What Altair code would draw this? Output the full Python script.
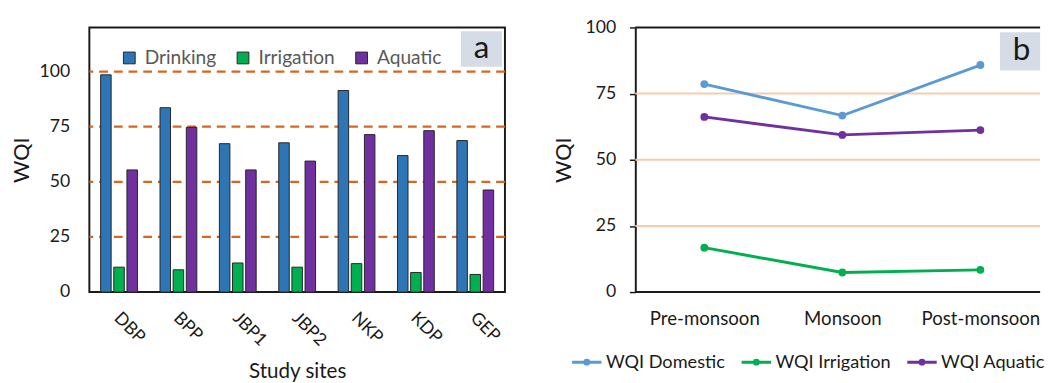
import altair as alt
import pandas as pd

FONT = "Lato"

# ---------------- panel a data ----------------
sites = ["DBP", "BPP", "JBP1", "JBP2", "NKP", "KDP", "GEP"]
drinking = [98.5, 83.6, 67.3, 67.7, 91.4, 61.9, 68.7]
irrigation = [11.3, 10.1, 13.2, 11.3, 12.9, 8.9, 8.0]
aquatic = [55.4, 74.7, 55.4, 59.4, 71.4, 73.2, 46.3]
uses = ["Drinking", "Irrigation", "Aquatic"]
use_colors = ["#2E75B6", "#00B050", "#7030A0"]
a_ticks = [0, 25, 50, 75, 100]
a_ref = [25, 50, 75, 100]

# ---------------- panel b data ----------------
seasons = ["Pre-monsoon", "Monsoon", "Post-monsoon"]
wqi_domestic = [78.6, 66.7, 85.8]
wqi_irrigation = [16.8, 7.4, 8.4]
wqi_aquatic = [66.2, 59.4, 61.2]
series = ["WQI Domestic", "WQI Irrigation", "WQI Aquatic"]
series_colors = ["#5B9BD5", "#00B050", "#7030A0"]
b_ticks = [0, 25, 50, 75, 100]
b_ref = [25, 50, 75]
b_frame = [0, 100]

# ---------------- tables ----------------
rows_a = []
for i, s in enumerate(sites):
    for u, vals in zip(uses, [drinking, irrigation, aquatic]):
        rows_a.append({"site": s, "use": u, "wqi": vals[i]})
dfa = pd.DataFrame(rows_a)

rows_b = []
for i, s in enumerate(seasons):
    for name, vals in zip(series, [wqi_domestic, wqi_irrigation, wqi_aquatic]):
        rows_b.append({"season": s, "idx": i, "series": name, "wqi": vals[i]})
dfb = pd.DataFrame(rows_b)

# ---------------- panel a ----------------
ya_scale = alt.Scale(domain=[0, 120], nice=False)
ya_axis = alt.Axis(
    values=a_ticks, title="WQI", grid=False, ticks=False, tickSize=0, domain=False,
    labelFontSize=18, labelColor="#1a1a1a", labelPadding=20,
    minExtent=47, maxExtent=47,
    titleFontSize=22, titleFontWeight="normal", titlePadding=10, titleColor="#1a1a1a",
)

rules_a = alt.Chart(pd.DataFrame({"v": a_ref})).mark_rule(
    color="#D9661F", strokeWidth=2.2, strokeDash=[9, 6]
).encode(y=alt.Y("v:Q", scale=ya_scale, axis=ya_axis))

bars = alt.Chart(dfa).mark_bar(stroke="#262626", strokeWidth=1).encode(
    x=alt.X(
        "site:N", sort=sites,
        scale=alt.Scale(paddingInner=0.38, paddingOuter=0.19),
        axis=alt.Axis(
            title="Study sites", labelAngle=45, labelFontSize=18, labelColor="#1a1a1a",
            labelPadding=17, labelOffset=4, ticks=False, domain=False, titleFontSize=21,
            titleFontWeight="normal", titlePadding=12, titleColor="#1a1a1a",
        ),
    ),
    xOffset=alt.XOffset("use:N", sort=uses, scale=alt.Scale(paddingInner=0.2, paddingOuter=0)),
    y=alt.Y("wqi:Q", scale=ya_scale, axis=ya_axis),
    color=alt.Color(
        "use:N", sort=uses, scale=alt.Scale(domain=uses, range=use_colors),
        legend=alt.Legend(
            orient="none", legendX=31, legendY=21, direction="horizontal", title=None,
            symbolType="square", symbolSize=144, symbolStrokeColor="#262626",
            symbolStrokeWidth=1, labelFontSize=19.5, labelColor="#595959", labelFont=FONT,
            columnPadding=17, labelOffset=6,
        ),
    ),
)

label_a = pd.DataFrame({"label": ["a"]})
box_a = alt.Chart(label_a).mark_rect(color="#D6DCE5").encode(
    x=alt.value(379), x2=alt.value(421), y=alt.value(4), y2=alt.value(40)
)
text_a = alt.Chart(label_a).mark_text(fontSize=32, font=FONT, color="#1a1a1a").encode(
    x=alt.value(400), y=alt.value(21), text="label:N"
)

panel_a = alt.layer(rules_a, bars, box_a, text_a).properties(
    width=424, height=270,
    view=alt.ViewBackground(stroke="#1a1a1a", strokeWidth=2),
)

# ---------------- panel b ----------------
yb_scale = alt.Scale(domain=[0, 100], nice=False)
yb_axis = alt.Axis(
    values=b_ticks, title="WQI", grid=False, ticks=True, tickSize=6,
    tickColor="#1a1a1a", tickWidth=1.5, domain=True, domainColor="#1a1a1a",
    domainWidth=2, labelFontSize=18, labelColor="#1a1a1a", labelPadding=14,
    minExtent=51, maxExtent=51,
    titleFontSize=22, titleFontWeight="normal", titlePadding=10, titleColor="#1a1a1a",
)
season_expr = "[" + ",".join("'" + s + "'" for s in seasons) + "][datum.value]"
xb = alt.X(
    "idx:Q",
    scale=alt.Scale(domain=[-0.5, 2.433], nice=False, zero=False),
    axis=alt.Axis(
        title=None, values=list(range(len(seasons))), labelExpr=season_expr,
        labelAngle=0, domain=False, ticks=False, grid=False, labelFontSize=19,
        labelColor="#1a1a1a", labelPadding=18, labelFlush=False, labelOverlap=False,
    ),
)

grid_b = alt.Chart(pd.DataFrame({"v": b_ref})).mark_rule(
    color="#F8CBAD", strokeWidth=2
).encode(y=alt.Y("v:Q", scale=yb_scale, axis=yb_axis))

frame_b = alt.Chart(pd.DataFrame({"v": b_frame})).mark_rule(
    color="#1a1a1a", strokeWidth=2
).encode(y=alt.Y("v:Q", scale=yb_scale, axis=yb_axis))

dot_path = (
    "M-1,0L1,0"
    "M0.133,0A0.133,0.133,0,1,1,-0.133,0A0.133,0.133,0,1,1,0.133,0"
    "M0.05,0A0.05,0.05,0,1,1,-0.05,0A0.05,0.05,0,1,1,0.05,0"
)

lines = alt.Chart(dfb).mark_line(strokeWidth=3).encode(
    x=xb,
    y=alt.Y("wqi:Q", scale=yb_scale, axis=yb_axis),
    color=alt.Color(
        "series:N", sort=series, scale=alt.Scale(domain=series, range=series_colors),
        legend=alt.Legend(
            orient="none", legendX=-66, legendY=325, direction="horizontal", title=None,
            symbolType=dot_path, symbolSize=900, symbolStrokeWidth=3,
            labelFontSize=18.5, labelColor="#1a1a1a", labelFont=FONT,
            columnPadding=10, labelOffset=3,
        ),
    ),
)

points = alt.Chart(dfb).mark_circle(size=64, opacity=1).encode(
    x=xb,
    y=alt.Y("wqi:Q", scale=yb_scale, axis=yb_axis),
    color=alt.Color("series:N", sort=series, scale=alt.Scale(domain=series, range=series_colors), legend=None),
)

label_b = pd.DataFrame({"label": ["b"]})
box_b = alt.Chart(label_b).mark_rect(color="#D6DCE5").encode(
    x=alt.value(372), x2=alt.value(413), y=alt.value(5), y2=alt.value(44)
)
text_b = alt.Chart(label_b).mark_text(fontSize=32, font=FONT, color="#1a1a1a").encode(
    x=alt.value(394), y=alt.value(23), text="label:N"
)

panel_b = alt.layer(grid_b, frame_b, lines, points, box_b, text_b).properties(
    width=413, height=270,
    view=alt.ViewBackground(stroke="transparent"),
)

chart = (
    alt.hconcat(panel_a, panel_b, spacing=45)
    .resolve_scale(color="independent", x="independent", y="independent")
    .resolve_legend(color="independent")
    .properties(padding={"left": 2, "top": 6, "right": 0, "bottom": 0})
    .configure(font=FONT)
    .configure_view(stroke=None)
)

chart.save("out.html", embed_options={"renderer": "svg", "actions": False})
